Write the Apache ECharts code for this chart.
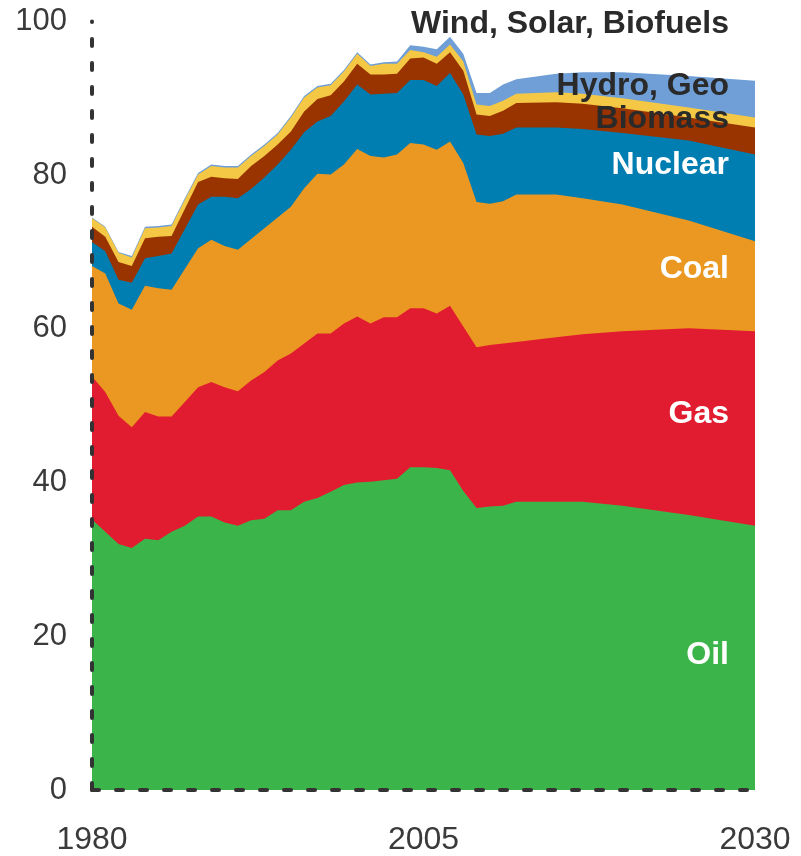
<!DOCTYPE html>
<html>
<head>
<meta charset="utf-8">
<script src="https://cdn.jsdelivr.net/npm/echarts@6/dist/echarts.min.js"></script>
<style>
html,body{margin:0;padding:0;background:#fff;}
#chart{width:801px;height:856px;}
</style>
</head>
<body>
<div id="chart"></div>
<script>
var years = [1980,1981,1982,1983,1984,1985,1986,1987,1988,1989,1990,1991,1992,1993,1994,1995,1996,1997,1998,1999,2000,2001,2002,2003,2004,2005,2006,2007,2008,2009,2010,2011,2012,2015,2017,2020,2025,2030];
var oil = [35.2,33.6,32.0,31.5,32.7,32.5,33.6,34.4,35.6,35.6,34.8,34.4,35.1,35.3,36.4,36.4,37.5,38.0,38.8,39.7,40.0,40.1,40.3,40.5,42.0,42.0,41.9,41.6,38.9,36.7,36.9,37.0,37.5,37.5,37.5,37.0,35.8,34.4];
var gas = [18.6,18.2,16.7,15.7,16.5,16.1,15.0,16.1,16.8,17.5,17.6,17.5,18.2,19.1,19.5,20.4,20.6,21.4,20.6,21.0,21.6,20.6,21.2,21.0,20.7,20.7,20.1,21.4,21.4,20.9,21.0,21.1,20.8,21.4,21.8,22.7,24.3,25.3];
var coal = [14.4,15.4,14.6,15.3,16.4,16.7,16.5,17.3,18.1,18.5,18.4,18.4,18.4,18.7,18.6,19.1,20.2,20.8,20.7,20.7,21.8,21.8,20.8,21.2,21.5,21.3,21.3,21.4,21.3,18.9,18.4,18.5,19.2,18.6,17.7,16.5,14.0,11.7];
var nuclear = [3.1,2.9,3.1,3.5,3.6,4.2,4.7,5.2,5.7,5.6,6.4,6.7,6.5,6.6,6.9,7.4,7.3,6.8,7.6,8.2,8.4,8.0,8.3,8.0,8.2,8.4,8.3,8.9,8.9,8.8,8.8,8.8,8.7,8.7,9.0,9.3,10.4,11.3];
var biomass = [2.0,1.9,2.3,2.2,2.6,2.5,2.3,2.6,2.9,2.6,2.4,2.5,3.0,2.8,2.6,2.4,2.7,2.9,2.7,2.6,2.7,2.6,2.5,2.5,2.8,2.9,2.9,2.7,3.1,2.6,2.6,3.0,3.2,3.3,3.3,3.2,3.0,3.5];
var hydroGeo = [1.1,1.2,1.2,1.1,1.3,1.2,1.3,1.2,1.0,1.4,1.4,1.5,1.3,1.3,1.3,1.8,1.8,1.5,1.3,1.3,1.3,1.1,1.4,1.3,1.1,0.7,0.9,1.0,1.2,1.3,1.3,1.3,1.2,1.3,1.3,1.3,1.3,1.3];
var windSolarBiofuels = [0.1,0.1,0.1,0.2,0.2,0.2,0.2,0.2,0.2,0.2,0.2,0.2,0.2,0.2,0.2,0.2,0.2,0.2,0.2,0.2,0.2,0.2,0.2,0.3,0.6,0.7,1.0,1.0,1.0,1.5,1.7,2.1,1.9,2.4,2.8,3.4,4.1,4.8];

var xTickLabels = [1980, 2005, 2030];
var yTicks = [0, 20, 40, 60, 80, 100];

var seriesDefs = [
  {name: 'Oil', data: oil, color: '#3BB54A'},
  {name: 'Gas', data: gas, color: '#E21C30'},
  {name: 'Coal', data: coal, color: '#EB9822'},
  {name: 'Nuclear', data: nuclear, color: '#007DB1'},
  {name: 'Biomass', data: biomass, color: '#993300'},
  {name: 'Hydro, Geo', data: hydroGeo, color: '#F4C845'},
  {name: 'Wind, Solar, Biofuels', data: windSolarBiofuels, color: '#6F9FD6'}
];

var FONT = '"Liberation Sans", Arial, Helvetica, sans-serif';

// stack the layers: each layer is drawn as its cumulative top, filled to zero;
// lower layers are drawn above (higher z) so each visible band equals its own value
var running = years.map(function () { return 0; });
var series = seriesDefs.map(function (s, k) {
  running = running.map(function (v, i) { return Math.round((v + s.data[i]) * 100) / 100; });
  var tops = running.slice();
  return {
    name: s.name,
    type: 'line',
    symbol: 'none',
    silent: true,
    z: 2 + (seriesDefs.length - k),
    lineStyle: {width: 0, color: s.color},
    areaStyle: {color: s.color, opacity: 1, origin: 'start'},
    data: years.map(function (y, i) { return [y, tops[i]]; })
  };
});

function lbl(text, y, color) {
  return {
    type: 'text',
    z: 100,
    style: {
      text: text,
      x: 729,
      y: y,
      textAlign: 'right',
      textVerticalAlign: 'middle',
      fill: color,
      font: 'bold 32px ' + FONT
    }
  };
}

var chart = echarts.init(document.getElementById('chart'), null, {renderer: 'canvas'});
chart.setOption({
  animation: false,
  backgroundColor: '#ffffff',
  grid: {left: 92, right: 46, top: 21.5, bottom: 62.5, containLabel: false},
  xAxis: {
    type: 'value',
    min: 1980,
    max: 2030,
    interval: 5,
    z: 20,
    splitLine: {show: false},
    axisTick: {show: false},
    axisLine: {show: true, lineStyle: {color: '#333333', width: 4, type: [7, 17]}},
    axisLabel: {
      margin: 34,
      color: '#3a3a3a',
      fontSize: 32,
      fontFamily: FONT,
      formatter: function (v) { return xTickLabels.indexOf(v) >= 0 ? String(v) : ''; }
    }
  },
  yAxis: {
    type: 'value',
    min: 0,
    max: 100,
    interval: 20,
    z: 20,
    splitLine: {show: false},
    axisTick: {show: false},
    axisLine: {show: true, lineStyle: {color: '#333333', width: 4, type: [7, 17]}},
    axisLabel: {
      margin: 25,
      padding: [6, 0, 0, 0],
      color: '#3a3a3a',
      fontSize: 31,
      fontFamily: FONT,
      formatter: function (v) { return yTicks.indexOf(v) >= 0 ? String(v) : ''; }
    }
  },
  series: series,
  graphic: [
    lbl('Wind, Solar, Biofuels', 24, '#2a2a2a'),
    lbl('Hydro, Geo', 86, '#2a2a2a'),
    lbl('Biomass', 119, '#2a2a2a'),
    lbl('Nuclear', 165, '#ffffff'),
    lbl('Coal', 269, '#ffffff'),
    lbl('Gas', 414, '#ffffff'),
    lbl('Oil', 655, '#ffffff')
  ]
});
</script>
</body>
</html>
